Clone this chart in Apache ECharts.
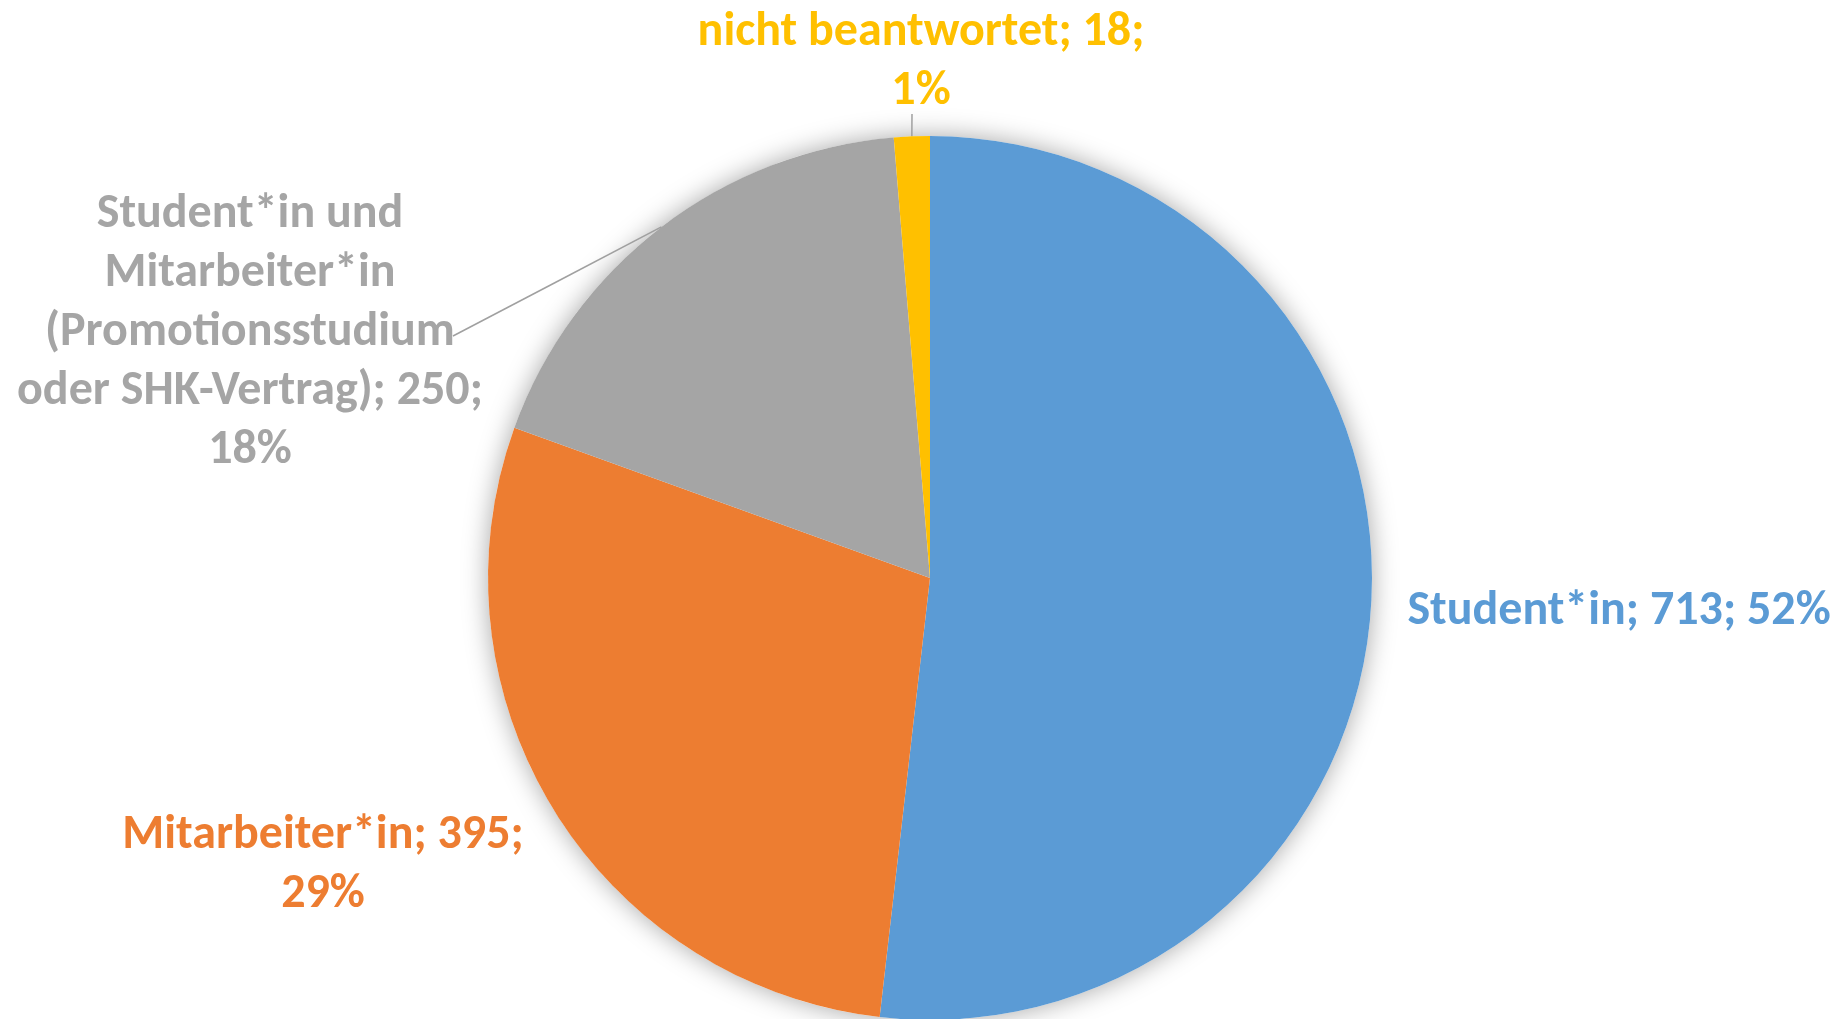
<!DOCTYPE html>
<html>
<head>
<meta charset="utf-8">
<script src="https://cdn.jsdelivr.net/npm/echarts@6/dist/echarts.min.js"></script>
<style>
  html, body { margin: 0; padding: 0; background: #fff; }
  #chart { width: 1845px; height: 1019px; }
</style>
</head>
<body>
<div id="chart"></div>
<script>
// data
const categories = ['Student*in', 'Mitarbeiter*in', 'Student*in und\nMitarbeiter*in\n(Promotionsstudium\noder SHK-Vertrag)', 'nicht beantwortet'];
const counts = [713, 395, 250, 18];
const colors = ['#5B9BD5', '#ED7D31', '#A5A5A5', '#FFC000'];
const percentBreak = [' ', '\n', '\n', '\n'];

// layout of the pie and its labels (pixels)
const CX = 930, CY = 578, R = 442;
const labelPos = [[1619, 612], [323, 865], [250, 333], [921, 62]];
const leaderStart = [null, null, [453, 336], [912, 114]];

const total = counts.reduce((a, b) => a + b, 0);

function edgePoint(i) {
  let cum = 0;
  for (let k = 0; k < i; k++) cum += counts[k];
  const a = 2 * Math.PI * (cum + counts[i] / 2) / total;
  return [CX + R * Math.sin(a), CY - R * Math.cos(a)];
}

const chart = echarts.init(document.getElementById('chart'));

chart.setOption({
  animation: false,
  backgroundColor: '#fff',
  series: [
    {
      // soft shadow under the whole pie
      type: 'pie',
      silent: true,
      z: 1,
      center: [CX, CY],
      radius: R,
      data: [{ value: total }],
      itemStyle: { color: '#fff', shadowBlur: 26, shadowColor: 'rgba(0,0,0,0.35)' },
      label: { show: false },
      labelLine: { show: false }
    },
    {
      type: 'pie',
      z: 2,
      center: [CX, CY],
      radius: R,
      startAngle: 90,
      clockwise: true,
      avoidLabelOverlap: false,
      itemStyle: { borderWidth: 0 },
      data: categories.map((name, i) => ({
        name: name,
        value: counts[i],
        itemStyle: { color: colors[i] },
        label: { color: colors[i] },
        labelLine: { show: !!leaderStart[i] }
      })),
      label: {
        show: true,
        position: 'outside',
        fontFamily: 'Carlito, Lato, sans-serif',
        fontWeight: 'bold',
        fontSize: 48,
        lineHeight: 59,
        align: 'center',
        formatter: p => p.name + '; ' + p.value + ';' + percentBreak[p.dataIndex] + Math.round(p.percent) + '%'
      },
      labelLine: {
        lineStyle: { color: '#A0A0A0', width: 1.5 }
      },
      labelLayout: params => {
        const i = params.dataIndex;
        const res = {
          x: labelPos[i][0],
          y: labelPos[i][1],
          align: 'center',
          verticalAlign: 'middle'
        };
        if (leaderStart[i]) {
          const s = leaderStart[i];
          const e = edgePoint(i);
          res.labelLinePoints = [s, [(s[0] + e[0]) / 2, (s[1] + e[1]) / 2], e];
        }
        return res;
      }
    }
  ]
});

window.addEventListener('resize', () => chart.resize());
</script>
</body>
</html>
